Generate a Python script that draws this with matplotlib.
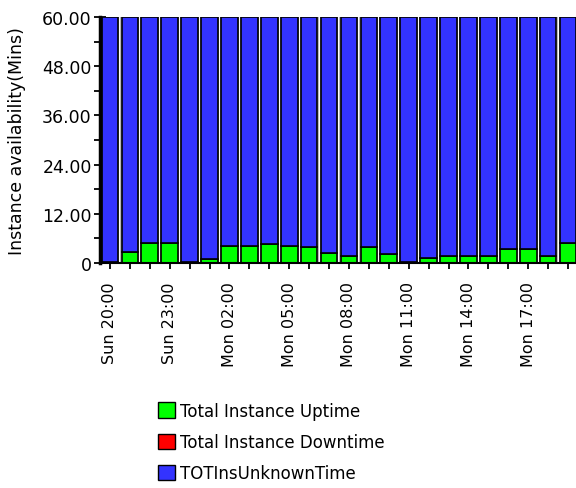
import matplotlib
matplotlib.use("Agg")
import matplotlib.pyplot as plt
from matplotlib.patches import Patch

# hourly buckets, Sun 20:00 .. Mon 19:00
hours = ["Sun 20:00", "Sun 21:00", "Sun 22:00", "Sun 23:00",
         "Mon 00:00", "Mon 01:00", "Mon 02:00", "Mon 03:00",
         "Mon 04:00", "Mon 05:00", "Mon 06:00", "Mon 07:00",
         "Mon 08:00", "Mon 09:00", "Mon 10:00", "Mon 11:00",
         "Mon 12:00", "Mon 13:00", "Mon 14:00", "Mon 15:00",
         "Mon 16:00", "Mon 17:00", "Mon 18:00", "Mon 19:00"]
uptime = [0.3, 2.7, 4.9, 4.8, 0.2, 0.9, 4.2, 4.2, 4.7, 4.2, 3.8, 2.4,
          1.8, 3.8, 2.2, 0.3, 1.2, 1.8, 1.8, 1.8, 3.4, 3.4, 1.8, 4.9]
downtime = [0.0] * len(hours)
unknown = [60.0 - u - d for u, d in zip(uptime, downtime)]

GREEN = "#00ff00"
RED = "#ff0000"
BLUE = "#3333ff"

fig = plt.figure(figsize=(5.76, 4.89), dpi=100)
ax = fig.add_axes([0.1736, 0.46, 0.8264, 0.503])

x = list(range(len(hours)))
totals = [u + d + k for u, d, k in zip(uptime, downtime, unknown)]

# grey shadow behind each bar
ax.bar(x, totals, width=0.95, color="#b8b8b8", edgecolor="none", zorder=1)
ax.bar(x, uptime, width=0.84, color=GREEN, edgecolor="black", linewidth=1.2, zorder=2)
ax.bar(x, downtime, width=0.84, bottom=uptime, color=RED, edgecolor="none", zorder=2)
bottoms = [u + d for u, d in zip(uptime, downtime)]
ax.bar(x, unknown, width=0.84, bottom=bottoms, color=BLUE, edgecolor="black",
       linewidth=1.2, zorder=2)

ax.set_xlim(-0.5, 23.4)
ax.set_ylim(0, 60)

ax.set_xticks(x)
ax.set_xticklabels([h if i % 3 == 0 else "" for i, h in enumerate(hours)],
                   rotation=90, fontsize=11.5)
ax.set_yticks([0, 12, 24, 36, 48, 60])
ax.set_yticklabels(["0", "12.00", "24.00", "36.00", "48.00", "60.00"], fontsize=12.5)
ax.set_yticks([6, 18, 30, 42, 54], minor=True)
ax.tick_params(axis="both", which="both", direction="inout", length=8, width=1.3,
               color="black", pad=2)
ax.tick_params(axis="x", pad=9)

for side in ("top", "right"):
    ax.spines[side].set_visible(False)
ax.spines["left"].set_linewidth(2.5)
ax.spines["bottom"].set_linewidth(1.5)
ax.spines["left"].set_zorder(3)
ax.spines["bottom"].set_zorder(3)

ax.set_ylabel("Instance availability(Mins)", fontsize=12.5, labelpad=1)
ax.yaxis.set_label_coords(-0.155, 0.5)

handles = [Patch(facecolor=GREEN, edgecolor="black"),
           Patch(facecolor=RED, edgecolor="black"),
           Patch(facecolor=BLUE, edgecolor="black")]
labels = ["Total Instance Uptime", "Total Instance Downtime", "TOTInsUnknownTime"]
fig.legend(handles, labels, loc="upper left", bbox_to_anchor=(0.262, 0.19),
           frameon=False, fontsize=12, handlelength=1.05, handleheight=1.05,
           handletextpad=0.3, labelspacing=0.8, borderaxespad=0)

fig.savefig("out.png", dpi=100)
